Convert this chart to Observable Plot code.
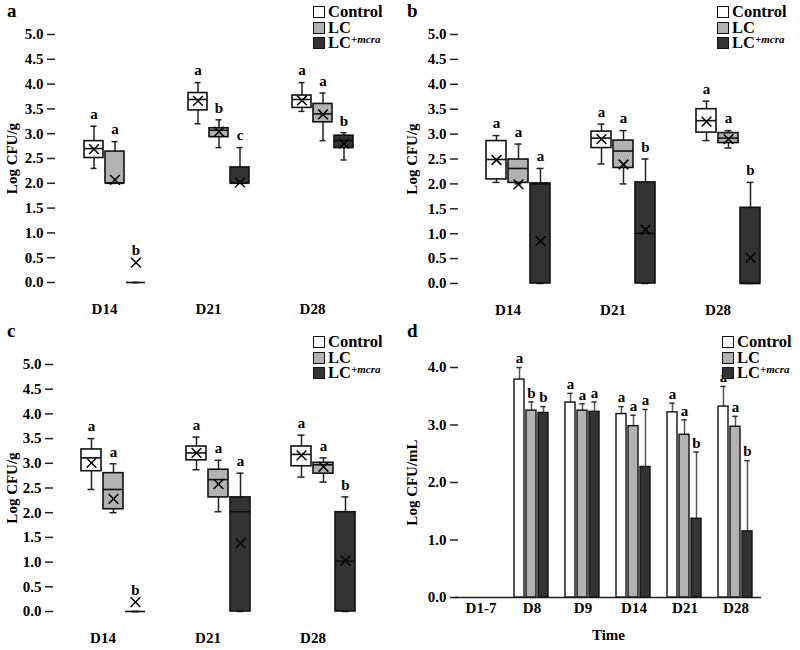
<!DOCTYPE html>
<html>
<head>
<meta charset="utf-8">
<script src="https://cdn.jsdelivr.net/npm/d3@7"></script>
<script src="https://cdn.jsdelivr.net/npm/@observablehq/plot@0.6"></script>
<style>
  body { margin: 0; background: #fff; }
  #root { position: relative; width: 800px; height: 650px; font-family: "Liberation Serif", "Times New Roman", serif; font-weight: bold; color: #000; }
  .panel { position: absolute; }
  .panel svg { display: block; }
  .tag { position: absolute; font-size: 19px; line-height: 1; }
  .legend { position: absolute; font-size: 16.5px; }
  .legend .row { display: flex; align-items: center; height: 15.7px; line-height: 15.7px; white-space: nowrap; }
  .legend .sw { display: inline-block; width: 12px; height: 12px; box-sizing: border-box; border: 1.3px solid #111; margin-right: 3px; }
  .legend sup { font-size: 11px; font-style: italic; line-height: 0; vertical-align: 5px; }
</style>
</head>
<body>
<div id="root"></div>
<script>
// ---------- data ----------
const groups = ["Control", "LC", "LC+mcra"];
const groupColors = ["#ffffff", "#b2b2b2", "#333333"];
const boxDays = ["D14", "D21", "D28"];
const boxTicks = [0, 0.5, 1, 1.5, 2, 2.5, 3, 3.5, 4, 4.5, 5];

// day, group, min, q1, median, q3, max, mean, letter
const boxA = [
  ["D14", "Control", 2.30, 2.51, 2.70, 2.85, 3.15, 2.69, "a"],
  ["D14", "LC",      2.00, 2.00, 2.00, 2.64, 2.84, 2.07, "a"],
  ["D14", "LC+mcra", 0.00, 0.00, 0.00, 0.00, 0.00, 0.40, "b"],
  ["D21", "Control", 3.20, 3.47, 3.69, 3.82, 4.03, 3.66, "a"],
  ["D21", "LC",      2.72, 2.93, 3.07, 3.11, 3.28, 3.04, "b"],
  ["D21", "LC+mcra", 2.00, 2.00, 2.00, 2.32, 2.72, 2.02, "c"],
  ["D28", "Control", 3.45, 3.52, 3.69, 3.77, 4.03, 3.67, "a"],
  ["D28", "LC",      2.86, 3.23, 3.40, 3.60, 3.82, 3.39, "a"],
  ["D28", "LC+mcra", 2.47, 2.71, 2.86, 2.96, 3.02, 2.80, "b"]
];
const boxB = [
  ["D14", "Control", 2.03, 2.09, 2.49, 2.86, 2.97, 2.48, "a"],
  ["D14", "LC",      2.00, 2.02, 2.31, 2.49, 2.80, 1.99, "a"],
  ["D14", "LC+mcra", 0.00, 0.00, 2.00, 2.01, 2.31, 0.85, "a"],
  ["D21", "Control", 2.40, 2.72, 2.92, 3.05, 3.20, 2.90, "a"],
  ["D21", "LC",      2.00, 2.32, 2.66, 2.87, 3.07, 2.39, "a"],
  ["D21", "LC+mcra", 0.00, 0.00, 1.01, 2.03, 2.50, 1.08, "b"],
  ["D28", "Control", 2.87, 3.03, 3.27, 3.50, 3.66, 3.25, "a"],
  ["D28", "LC",      2.72, 2.82, 2.92, 3.02, 3.07, 2.90, "a"],
  ["D28", "LC+mcra", 0.00, 0.00, 0.00, 1.52, 2.03, 0.52, "b"]
];
const boxC = [
  ["D14", "Control", 2.47, 2.84, 3.11, 3.28, 3.50, 3.01, "a"],
  ["D14", "LC",      2.00, 2.07, 2.47, 2.80, 2.99, 2.28, "a"],
  ["D14", "LC+mcra", 0.00, 0.00, 0.00, 0.00, 0.00, 0.19, "b"],
  ["D21", "Control", 2.87, 3.06, 3.21, 3.34, 3.53, 3.21, "a"],
  ["D21", "LC",      2.02, 2.31, 2.67, 2.87, 3.06, 2.58, "a"],
  ["D21", "LC+mcra", 0.00, 0.00, 2.02, 2.31, 2.80, 1.38, "a"],
  ["D28", "Control", 2.72, 2.94, 3.18, 3.34, 3.57, 3.16, "a"],
  ["D28", "LC",      2.62, 2.79, 2.97, 3.01, 3.11, 2.93, "a"],
  ["D28", "LC+mcra", 0.00, 0.00, 1.02, 2.01, 2.32, 1.03, "b"]
];

const barDays = ["D1-7", "D8", "D9", "D14", "D21", "D28"];
const barTicks = [0, 1, 2, 3, 4];
// day, group, mean, top of error bar, letter
const barD = [
  ["D1-7", "Control", 0, null, ""],
  ["D1-7", "LC",      0, null, ""],
  ["D1-7", "LC+mcra", 0, null, ""],
  ["D8",  "Control", 3.79, 4.00, "a"],
  ["D8",  "LC",      3.25, 3.40, "b"],
  ["D8",  "LC+mcra", 3.21, 3.32, "b"],
  ["D9",  "Control", 3.39, 3.55, "a"],
  ["D9",  "LC",      3.25, 3.37, "a"],
  ["D9",  "LC+mcra", 3.23, 3.40, "a"],
  ["D14", "Control", 3.19, 3.32, "a"],
  ["D14", "LC",      2.98, 3.17, "a"],
  ["D14", "LC+mcra", 2.27, 3.27, "a"],
  ["D21", "Control", 3.22, 3.38, "a"],
  ["D21", "LC",      2.83, 3.09, "a"],
  ["D21", "LC+mcra", 1.37, 2.53, "b"],
  ["D28", "Control", 3.32, 3.67, "a"],
  ["D28", "LC",      2.97, 3.15, "a"],
  ["D28", "LC+mcra", 1.15, 2.38, "b"]
];

// ---------- drawing ----------
const root = document.getElementById("root");
const FONT = "font-family: 'Liberation Serif', 'Times New Roman', serif; font-size: 15px; font-weight: bold; color: #000; background: transparent; overflow: visible;";

function yAxisMarks(ticks, label, offset) {
  const marks = [
    Plot.axisY({ticks, tickFormat: d3.format(".1f"), tickSize: 5, tickPadding: 4,
      line: true, strokeWidth: 1.5, stroke: "#222",
      label, labelAnchor: "center", labelArrow: "none", labelOffset: offset})
  ];
  try {
    marks.push(Plot.axisY({ticks, tickFormat: () => "", tickSize: -3, label: null, strokeWidth: 1.5, stroke: "#222"}));
  } catch (e) { /* ignore */ }
  return marks;
}

function boxPanel(rows, o) {
  const data = rows.map(([day, group, min, q1, median, q3, max, mean, letter]) =>
    ({day, group, min, q1, median, q3, max, mean, letter, top: Math.max(max, mean)}));
  const common = {fx: "day", x: "group"};
  return Plot.plot({
    width: 400, height: o.height,
    marginTop: o.mt, marginBottom: o.mb, marginLeft: o.ml, marginRight: o.mr,
    style: FONT,
    fx: {domain: boxDays, paddingInner: 0, paddingOuter: 0, label: null},
    x: {domain: groups, paddingInner: 0.09, paddingOuter: 0.93, align: 0.756, axis: null},
    y: {domain: [0, 5]},
    color: {domain: groups, range: groupColors},
    marks: [
      ...yAxisMarks(boxTicks, "Log CFU/g", o.ml - 6),
      Plot.axisFx({anchor: "bottom", tickSize: 0, tickPadding: 21, label: null}),
      Plot.ruleX(data, {...common, y1: "q3", y2: "max", stroke: "#222", strokeWidth: 1.5}),
      Plot.ruleX(data, {...common, y1: "min", y2: "q1", stroke: "#222", strokeWidth: 1.5}),
      Plot.tickY(data, {...common, y: "max", insetLeft: 6.5, insetRight: 6.5, stroke: "#222", strokeWidth: 1.5}),
      Plot.tickY(data, {...common, y: "min", insetLeft: 6.5, insetRight: 6.5, stroke: "#222", strokeWidth: 1.5}),
      Plot.barY(data, {...common, y1: "q1", y2: "q3", fill: "group", stroke: "#111", strokeWidth: 1.6}),
      Plot.tickY(data, {...common, y: "median", stroke: "#111", strokeWidth: 1.6}),
      Plot.dot(data, {...common, y: "mean", symbol: "times", r: 4.5, stroke: "#000", strokeWidth: 1.5}),
      Plot.text(data, {...common, y: "top", text: "letter", dy: -12, fontSize: 15, fontWeight: "bold", fill: "#000"})
    ]
  });
}

function barPanel(rows, o) {
  const data = rows.map(([day, group, mean, err, letter]) => ({day, group, mean, err, letter}));
  const withErr = data.filter(d => d.err != null);
  const common = {fx: "day", x: "group"};
  return Plot.plot({
    width: 400, height: o.height,
    marginTop: o.mt, marginBottom: o.mb, marginLeft: o.ml, marginRight: o.mr,
    style: FONT,
    fx: {domain: barDays, paddingInner: 0, paddingOuter: 0},
    x: {domain: groups, paddingInner: 0.16, paddingOuter: 0.63, axis: null},
    y: {domain: [0, 4]},
    color: {domain: groups, range: groupColors},
    marks: [
      ...yAxisMarks(barTicks, "Log CFU/mL", o.ml - 5),
      Plot.axisFx({anchor: "bottom", tickSize: 0, tickPadding: 5,
        label: "Time", labelAnchor: "center", labelArrow: "none", labelOffset: 42}),
      Plot.ruleY([0], {stroke: "#222", strokeWidth: 1.5}),
      Plot.ruleX(withErr, {...common, y1: "mean", y2: "err", stroke: "#555", strokeWidth: 1.5}),
      Plot.tickY(withErr, {...common, y: "err", insetLeft: 2.3, insetRight: 2.3, stroke: "#333", strokeWidth: 1.5}),
      Plot.barY(data, {...common, y: "mean", fill: "group", stroke: "#111", strokeWidth: 1.4}),
      Plot.text(withErr, {...common, y: "err", text: "letter", dy: -9, fontSize: 15, fontWeight: "bold", fill: "#000"})
    ]
  });
}

function addPanel(left, top, svg, tag, legendPos) {
  const div = document.createElement("div");
  div.className = "panel";
  div.style.left = left + "px";
  div.style.top = top + "px";
  div.appendChild(svg);
  root.appendChild(div);

  const t = document.createElement("div");
  t.className = "tag";
  t.textContent = tag;
  t.style.left = (left + 7) + "px";
  t.style.top = (top + 1) + "px";
  root.appendChild(t);

  const lg = d3.select(root).append("div").attr("class", "legend")
    .style("left", (left + legendPos[0]) + "px").style("top", (top + legendPos[1]) + "px");
  groups.forEach((g, i) => {
    const row = lg.append("div").attr("class", "row");
    row.append("span").attr("class", "sw").style("background", groupColors[i]);
    const label = row.append("span");
    const parts = g.split("+");
    if (parts.length > 1) label.html(parts[0] + "<sup>+" + parts[1] + "</sup>");
    else label.text(g);
  });
}

addPanel(0, 0, boxPanel(boxA, {height: 320, mt: 34, mb: 38, ml: 52, mr: 36}), "a", [313, 4]);
addPanel(400, 0, boxPanel(boxB, {height: 320, mt: 34, mb: 37, ml: 55, mr: 30}), "b", [317, 4]);
addPanel(0, 320, boxPanel(boxC, {height: 330, mt: 44, mb: 39, ml: 50, mr: 35}), "c", [313, 14]);
addPanel(400, 320, barPanel(barD, {height: 330, mt: 47, mb: 53, ml: 54, mr: 38}), "d", [322, 14]);
</script>
</body>
</html>
